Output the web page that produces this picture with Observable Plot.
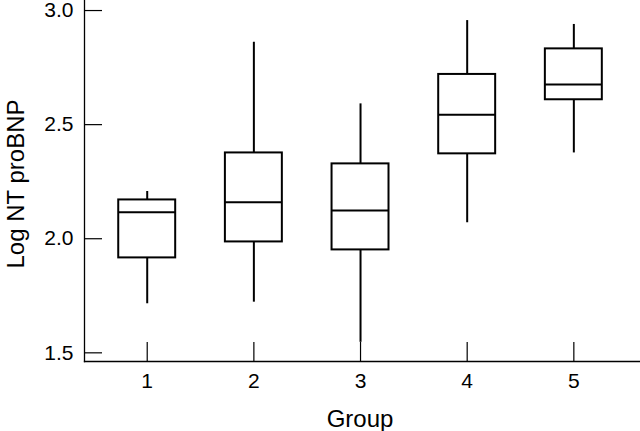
<!DOCTYPE html>
<html><head><meta charset="utf-8">
<script src="https://cdn.jsdelivr.net/npm/d3@7"></script>
<script src="https://cdn.jsdelivr.net/npm/@observablehq/plot@0.6"></script>
<style>html,body{margin:0;padding:0;background:#fff} svg{display:block}</style>
</head><body><div id="chart"></div>
<script>
const groups = [1, 2, 3, 4, 5];
const whiskerLow  = [1.715, 1.722, 1.546, 2.070, 2.376];
const q1          = [1.916, 1.986, 1.951, 2.372, 2.609];
const median      = [2.116, 2.160, 2.124, 2.543, 2.676];
const q3          = [2.170, 2.376, 2.328, 2.720, 2.832];
const whiskerHigh = [2.207, 2.861, 2.591, 2.956, 2.939];
const yTicks = [1.5, 2.0, 2.5, 3.0];
const xTicks = [1, 2, 3, 4, 5];
const xLabel = "Group";
const yLabel = "Log NT proBNP";

const boxHalf = 0.267;
const data = groups.map((g, i) => ({group: g, lo: whiskerLow[i], q1: q1[i], med: median[i], q3: q3[i], hi: whiskerHigh[i]}));

const W = 640, H = 431, ML = 84, MB = 70;
const frameW = W - ML, frameH = H - MB;

const chart = Plot.plot({
  width: W,
  height: H,
  marginLeft: ML,
  marginRight: 0,
  marginTop: 0,
  marginBottom: MB,
  style: {fontFamily: "'Liberation Sans', Arial, Helvetica, sans-serif", background: "white", color: "black"},
  x: {type: "linear", domain: [0.412, 5.625]},
  y: {domain: [1.462, 3.044]},
  marks: [
    Plot.frame({anchor: "left", stroke: "black", strokeWidth: 1.3}),
    Plot.frame({anchor: "bottom", stroke: "black", strokeWidth: 1.3}),
    Plot.tickY(yTicks, {y: d => d, insetRight: frameW - 18, stroke: "black", strokeWidth: 1.2}),
    Plot.tickX(xTicks, {x: d => d, insetTop: frameH - 19, stroke: "black", strokeWidth: 1.2}),
    Plot.axisY({ticks: yTicks, tickSize: 0, tickPadding: 11, tickFormat: d3.format(".1f"), fontSize: 21, label: null}),
    Plot.axisX({ticks: xTicks, tickSize: 0, tickPadding: 12, tickFormat: d => String(d), fontSize: 21, label: null}),
    Plot.ruleX(data, {x: "group", y1: "lo", y2: "q1", stroke: "black", strokeWidth: 2}),
    Plot.ruleX(data, {x: "group", y1: "q3", y2: "hi", stroke: "black", strokeWidth: 2}),
    Plot.rect(data, {x1: d => d.group - boxHalf, x2: d => d.group + boxHalf, y1: "q1", y2: "q3", fill: "none", stroke: "black", strokeWidth: 2}),
    Plot.ruleY(data, {y: "med", x1: d => d.group - boxHalf, x2: d => d.group + boxHalf, stroke: "black", strokeWidth: 2}),
    Plot.text([yLabel], {text: d => d, frameAnchor: "left", rotate: -90, dx: -61, dy: 3, lineAnchor: "bottom", textAnchor: "middle", fontSize: 24, fill: "black"}),
    Plot.text([xLabel], {text: d => d, frameAnchor: "bottom", dx: -2.5, dy: 65, lineAnchor: "bottom", textAnchor: "middle", fontSize: 24, fill: "black"})
  ]
});
document.getElementById("chart").appendChild(chart);
</script>
</body></html>
